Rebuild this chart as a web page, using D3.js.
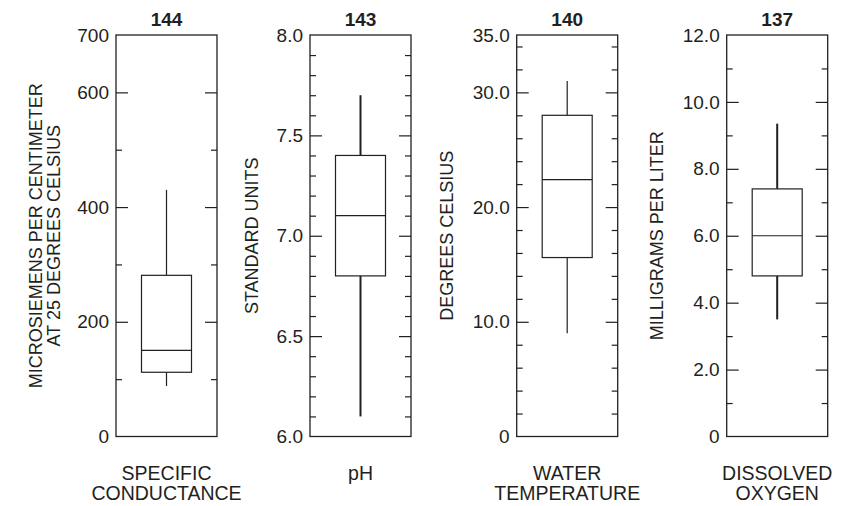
<!DOCTYPE html>
<html>
<head>
<meta charset="utf-8">
<script src="https://cdn.jsdelivr.net/npm/d3@7"></script>
<style>
  html, body { margin: 0; padding: 0; background: #fff; }
  svg { display: block; }
  text { font-family: "Liberation Sans", Arial, Helvetica, sans-serif; fill: #231f20; }
</style>
</head>
<body>
<svg id="chart" width="850" height="506"></svg>
<script>
// ---- Data ----
const categories = [["SPECIFIC", "CONDUCTANCE"], ["pH"], ["WATER", "TEMPERATURE"], ["DISSOLVED", "OXYGEN"]];
const yTitles = [["MICROSIEMENS PER CENTIMETER", "AT 25 DEGREES CELSIUS"], ["STANDARD UNITS"], ["DEGREES CELSIUS"], ["MILLIGRAMS PER LITER"]];
const counts = [144, 143, 140, 137];
const domainMin = [0, 6.0, 0, 0];
const domainMax = [700, 8.0, 35, 12];
const whiskerLow = [88, 6.1, 9.0, 3.5];
const q1 = [112, 6.8, 15.6, 4.8];
const median = [150, 7.1, 22.4, 6.0];
const q3 = [281, 7.4, 28.0, 7.4];
const whiskerHigh = [430, 7.7, 31.0, 9.35];
const majorTicks = [
  [0, 200, 400, 600, 700],
  [6.0, 6.5, 7.0, 7.5, 8.0],
  [0, 10, 20, 30, 35],
  [0, 2, 4, 6, 8, 10, 12]
];
const tickLabels = [
  ["0", "200", "400", "600", "700"],
  ["6.0", "6.5", "7.0", "7.5", "8.0"],
  ["0", "10.0", "20.0", "30.0", "35.0"],
  ["0", "2.0", "4.0", "6.0", "8.0", "10.0", "12.0"]
];
const minorTicks = [
  [100, 300, 500],
  [6.1, 6.2, 6.3, 6.4, 6.6, 6.7, 6.8, 6.9, 7.1, 7.2, 7.3, 7.4, 7.6, 7.7, 7.8, 7.9],
  [2, 4, 6, 8, 12, 14, 16, 18, 22, 24, 26, 28, 32, 34],
  [1, 3, 5, 7, 9, 11]
];

// ---- Layout ----
const panelLeft = [116, 310, 516.7, 726.7];
const panelWidth = 101;
const plotTop = 35, plotBottom = 436.5;
const boxHalf = 25;
const whiskerWidth = [1.2, 2, 1.2, 2];
const titleOffsets = [[-74, -56], [-52], [-63.7], [-63.7]];
const ink = "#231f20";

const svg = d3.select("#chart");

categories.forEach((cat, i) => {
  const g = svg.append("g").attr("transform", `translate(${panelLeft[i]},0)`);
  const y = d3.scaleLinear().domain([domainMin[i], domainMax[i]]).range([plotBottom, plotTop]);
  const cx = panelWidth / 2;
  const inner = v => v > domainMin[i] && v < domainMax[i];

  // left axis with labels (major ticks inward)
  const labelMap = new Map(majorTicks[i].map((v, k) => [v, tickLabels[i][k]]));
  const leftAxis = g.append("g")
    .call(d3.axisLeft(y).tickValues(majorTicks[i]).tickSize(-12).tickPadding(7)
      .tickFormat(v => labelMap.get(v)));
  leftAxis.attr("font-size", 19).attr("font-family", null);
  leftAxis.select(".domain").remove();
  leftAxis.selectAll(".tick line").attr("stroke", ink).attr("stroke-width", 1.2)
    .attr("display", d => inner(d) ? null : "none");
  leftAxis.selectAll(".tick text").attr("font-size", 19).attr("fill", ink)
    .style("font-family", '"Liberation Sans", Arial, sans-serif');

  // left minor
  const leftMinor = g.append("g")
    .call(d3.axisLeft(y).tickValues(minorTicks[i]).tickSize(-6).tickFormat(""));
  leftMinor.select(".domain").remove();
  leftMinor.selectAll(".tick line").attr("stroke", ink).attr("stroke-width", 1.2);

  // right axis
  const rightAxis = g.append("g").attr("transform", `translate(${panelWidth},0)`)
    .call(d3.axisRight(y).tickValues(majorTicks[i].filter(inner)).tickSize(-12).tickFormat(""));
  rightAxis.select(".domain").remove();
  rightAxis.selectAll(".tick line").attr("stroke", ink).attr("stroke-width", 1.2);
  const rightMinor = g.append("g").attr("transform", `translate(${panelWidth},0)`)
    .call(d3.axisRight(y).tickValues(minorTicks[i]).tickSize(-6).tickFormat(""));
  rightMinor.select(".domain").remove();
  rightMinor.selectAll(".tick line").attr("stroke", ink).attr("stroke-width", 1.2);

  // frame
  g.append("rect").attr("x", 0).attr("y", plotTop).attr("width", panelWidth).attr("height", plotBottom - plotTop)
    .attr("fill", "none").attr("stroke", ink).attr("stroke-width", 1.3);

  // whiskers
  g.append("line").attr("x1", cx).attr("x2", cx).attr("y1", y(q3[i])).attr("y2", y(whiskerHigh[i]))
    .attr("stroke", ink).attr("stroke-width", whiskerWidth[i]);
  g.append("line").attr("x1", cx).attr("x2", cx).attr("y1", y(q1[i])).attr("y2", y(whiskerLow[i]))
    .attr("stroke", ink).attr("stroke-width", whiskerWidth[i]);

  // box
  g.append("rect").attr("x", cx - boxHalf).attr("width", boxHalf * 2)
    .attr("y", y(q3[i])).attr("height", y(q1[i]) - y(q3[i]))
    .attr("fill", "#fff").attr("stroke", ink).attr("stroke-width", 1.2);
  g.append("line").attr("x1", cx - boxHalf).attr("x2", cx + boxHalf)
    .attr("y1", y(median[i])).attr("y2", y(median[i]))
    .attr("stroke", ink).attr("stroke-width", 1.2);

  // count title
  g.append("text").attr("x", cx).attr("y", 26).attr("text-anchor", "middle")
    .attr("font-size", 19).attr("font-weight", "bold").text(counts[i]);

  // category label
  cat.forEach((line, k) => {
    g.append("text").attr("x", cx).attr("y", 480 + k * 20).attr("text-anchor", "middle")
      .attr("font-size", 19.5).text(line);
  });

  // y-axis title
  yTitles[i].forEach((line, k) => {
    const xo = titleOffsets[i][k];
    g.append("text").attr("transform", `translate(${xo},${(plotTop + plotBottom) / 2}) rotate(-90)`)
      .attr("text-anchor", "middle").attr("font-size", 18).text(line);
  });
});
</script>
</body>
</html>
